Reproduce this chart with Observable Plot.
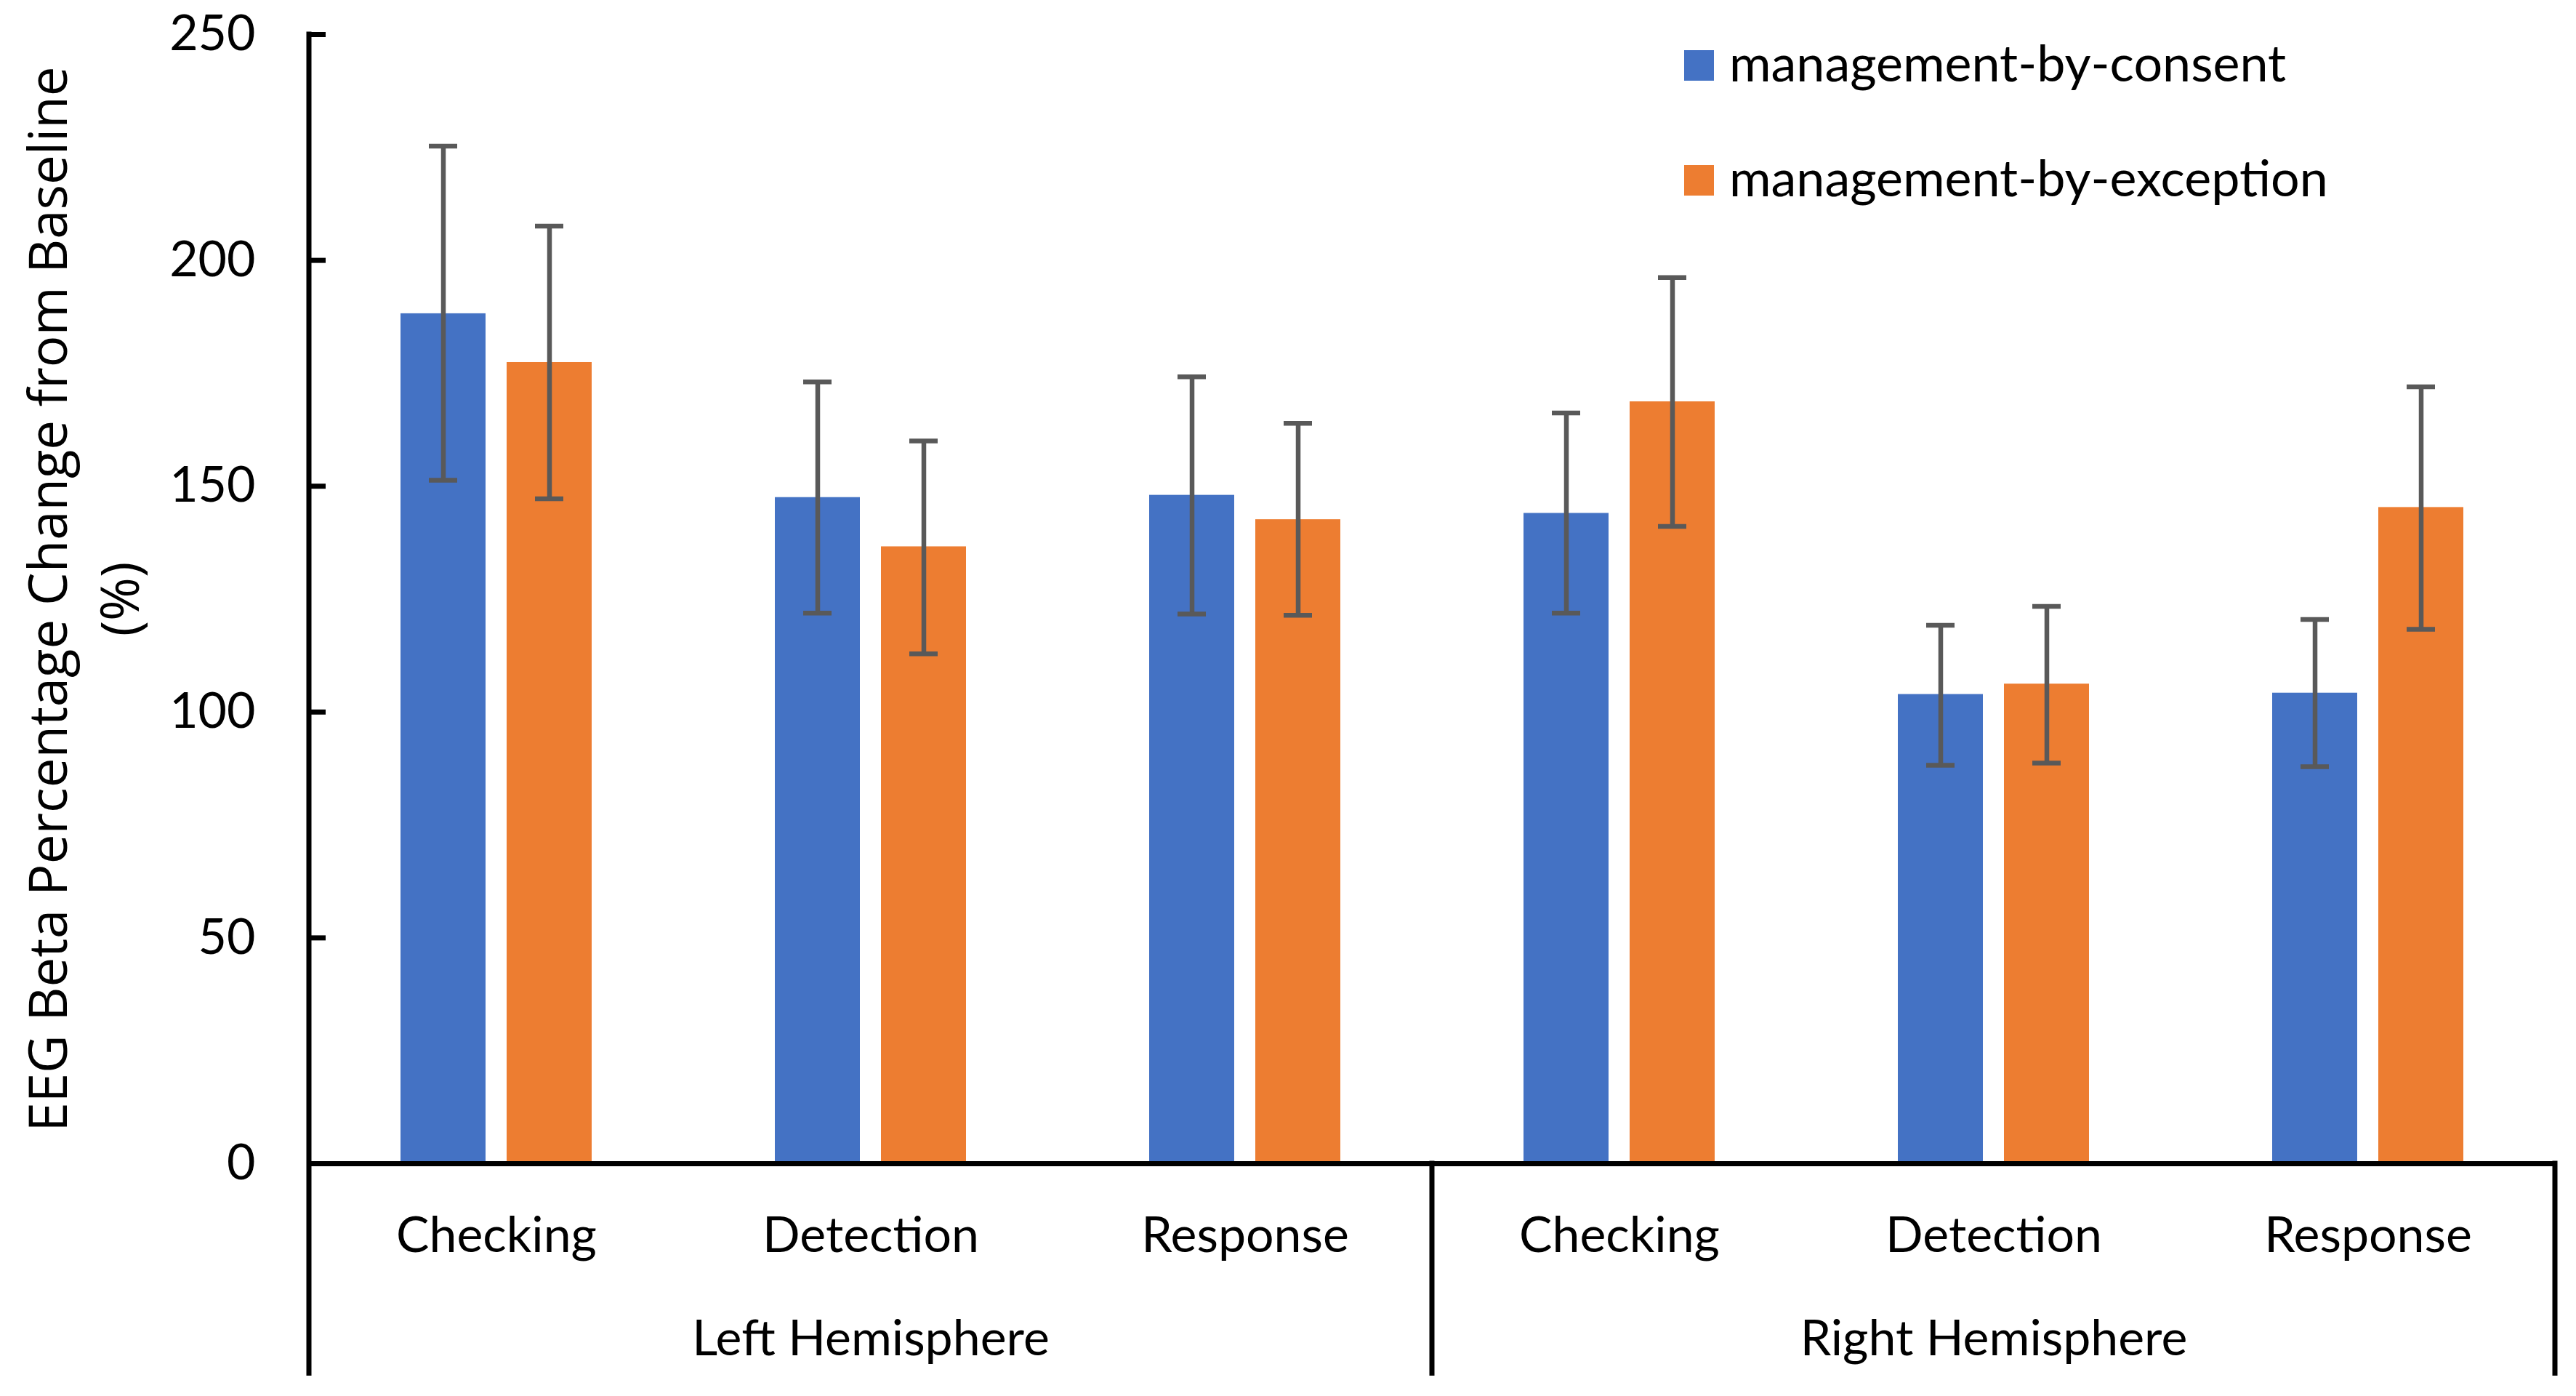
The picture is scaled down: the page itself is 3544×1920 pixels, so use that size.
<!DOCTYPE html>
<html>
<head>
<meta charset="utf-8">
<script src="https://cdn.jsdelivr.net/npm/d3@7"></script>
<script src="https://cdn.jsdelivr.net/npm/@observablehq/plot@0.6"></script>
<style>
  html, body { margin: 0; padding: 0; background: #fff; }
  #wrap { position: relative; width: 3544px; height: 1920px; }
  #legend { position: absolute; left: 2317px; top: 69px; font-family: Lato, sans-serif; font-size: 70px; color: #000; }
  #legend .row { display: flex; align-items: center; height: 42px; margin-bottom: 116px; white-space: nowrap; }
  #legend .sw { width: 41px; height: 42px; margin-right: 21px; flex: none; }
  #legend .lab { position: relative; top: -5px; }
</style>
</head>
<body>
<div id="wrap"></div>
<script>
// ---- data ----
const hemispheres = ["Left Hemisphere", "Right Hemisphere"];
const tasks = ["Checking", "Detection", "Response"];
const seriesNames = ["management-by-consent", "management-by-exception"];
const seriesColors = ["#4472C4", "#ED7D31"];
// order: Left Checking, Left Detection, Left Response, Right Checking, Right Detection, Right Response
const consentMean   = [188.2, 147.5, 148.0, 144.0, 103.9, 104.2];
const consentLow    = [151.3, 121.9, 121.7, 121.9,  88.2,  87.9];
const consentHigh   = [225.3, 173.1, 174.2, 166.2, 119.2, 120.5];
const exceptionMean = [177.4, 136.6, 142.6, 168.7, 106.2, 145.3];
const exceptionLow  = [147.2, 112.9, 121.4, 141.1,  88.7, 118.3];
const exceptionHigh = [207.6, 160.0, 163.9, 196.2, 123.4, 172.0];
const yTicks = [0, 50, 100, 150, 200, 250];
const yDomain = [0, 250];
const yTitle = "EEG Beta Percentage Change from Baseline\n(%)";

// ---- derived tables ----
const keys = hemispheres.flatMap(h => tasks.map(t => `${h}|${t}`));
const rows = [];
keys.forEach((k, i) => {
  rows.push({key: k, series: seriesNames[0], value: consentMean[i], lo: consentLow[i], hi: consentHigh[i]});
  rows.push({key: k, series: seriesNames[1], value: exceptionMean[i], lo: exceptionLow[i], hi: exceptionHigh[i]});
});
const hemiLabels = [
  {key: keys[1], text: hemispheres[0]},
  {key: keys[4], text: hemispheres[1]}
];
const separators = [
  {key: keys[0], side: "left", from: yDomain[1]},
  {key: keys[3], side: "left", from: yDomain[0]},
  {key: keys[5], side: "right", from: yDomain[0]}
];

const errColor = "#595959";

const chart = Plot.plot({
  width: 3544,
  height: 1920,
  marginLeft: 422,
  marginRight: 27,
  marginTop: 47,
  marginBottom: 320,
  style: {fontFamily: "Lato, sans-serif", fontSize: "68px", color: "#000", background: "#fff", overflow: "visible"},
  fx: {domain: keys, padding: 0, axis: null, label: null},
  x: {domain: seriesNames, paddingInner: 0.2, paddingOuter: 0.86, axis: null, label: null},
  y: {domain: yDomain, label: null},
  color: {domain: seriesNames, range: seriesColors},
  marks: [
    Plot.barY(rows, {fx: "key", x: "series", y: "value", fill: "series"}),
    Plot.ruleX(rows, {fx: "key", x: "series", y1: "lo", y2: "hi", stroke: errColor, strokeWidth: 6.5}),
    Plot.tickY(rows, {fx: "key", x: "series", y: "hi", stroke: errColor, strokeWidth: 6.5, insetLeft: 39, insetRight: 39}),
    Plot.tickY(rows, {fx: "key", x: "series", y: "lo", stroke: errColor, strokeWidth: 6.5, insetLeft: 39, insetRight: 39}),
    Plot.ruleY([0], {stroke: "#000", strokeWidth: 7}),
    Plot.axisY({ticks: yTicks, tickSize: -23, tickPadding: 97, strokeWidth: 7, stroke: "#000", fill: "#000",
                fontSize: 68, tickFormat: d => String(d), label: null}),
    Plot.axisFx({anchor: "bottom", tickSize: 0, tickPadding: 73, tickFormat: k => k.split("|")[1],
                 fontSize: 68, fill: "#000", label: null}),
    Plot.text(hemiLabels, {fx: "key", text: "text", frameAnchor: "bottom", lineAnchor: "top", dy: 215,
                           fontSize: 68, fill: "#000"}),
    Plot.text([yTitle], {fx: () => keys[0], text: d => d, frameAnchor: "left", rotate: -90, textAnchor: "middle",
                         lineAnchor: "top", lineHeight: 1.37, fontFamily: "Open Sans, sans-serif", fontSize: 72.5,
                         dx: -404, fill: "#000"}),
    Plot.ruleX(separators, {
      fx: "key",
      x: null,
      render(index, scales, values, dims) {
        const g = d3.create("svg:g");
        for (const i of index) {
          const s = separators[i];
          const x = s.side === "left" ? dims.marginLeft : dims.width - dims.marginRight;
          g.append("line")
            .attr("x1", x).attr("x2", x)
            .attr("y1", scales.y(s.from) - (s.from === yDomain[1] ? 3.5 : 3.5))
            .attr("y2", dims.height - 28)
            .attr("stroke", "#000")
            .attr("stroke-width", 7);
        }
        return g.node();
      }
    })
  ]
});

const wrap = document.getElementById("wrap");
wrap.appendChild(chart);

// legend (HTML, placed over the chart's top-right)
const legend = document.createElement("div");
legend.id = "legend";
seriesNames.forEach((name, i) => {
  const row = document.createElement("div");
  row.className = "row";
  const sw = document.createElement("div");
  sw.className = "sw";
  sw.style.background = seriesColors[i];
  const lab = document.createElement("span");
  lab.className = "lab";
  lab.textContent = name;
  row.appendChild(sw);
  row.appendChild(lab);
  legend.appendChild(row);
});
wrap.appendChild(legend);
</script>
</body>
</html>
